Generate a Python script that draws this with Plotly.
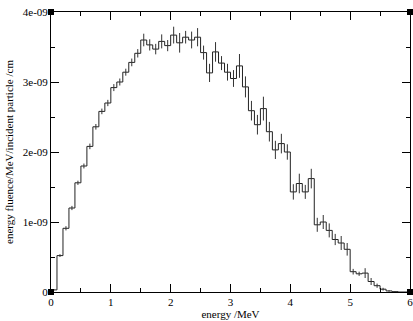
import plotly.graph_objects as go

# bin lower edges (MeV), bin width 0.1 MeV
bin_lo = [0.0, 0.1, 0.2, 0.3, 0.4, 0.5, 0.6, 0.7, 0.8, 0.9,
          1.0, 1.1, 1.2, 1.3, 1.4, 1.5, 1.6, 1.7, 1.8, 1.9,
          2.0, 2.1, 2.2, 2.3, 2.4, 2.5, 2.6, 2.7, 2.8, 2.9,
          3.0, 3.1, 3.2, 3.3, 3.4, 3.5, 3.6, 3.7, 3.8, 3.9,
          4.0, 4.1, 4.2, 4.3, 4.4, 4.5, 4.6, 4.7, 4.8, 4.9,
          5.0, 5.1, 5.2, 5.3, 5.4, 5.5, 5.6, 5.7, 5.8, 5.9]
bin_width = 0.1

# energy fluence (units of 1e-9 /MeV/incident particle/cm)
fluence = [0.03, 0.52, 0.91, 1.20, 1.56, 1.80, 2.08, 2.36, 2.58, 2.70,
           2.92, 3.00, 3.14, 3.28, 3.41, 3.60, 3.53, 3.47, 3.58, 3.52,
           3.67, 3.56, 3.64, 3.60, 3.64, 3.42, 3.13, 3.43, 3.27, 3.14,
           3.05, 3.23, 2.93, 2.59, 2.39, 2.62, 2.29, 2.03, 2.12, 2.00,
           1.43, 1.55, 1.43, 1.62, 0.96, 1.00, 0.88, 0.75, 0.70, 0.61,
           0.29, 0.26, 0.27, 0.15, 0.09, 0.04, 0.015, 0.005, 0.0, 0.0]

# statistical uncertainty (same units)
errors = [0.005, 0.02, 0.03, 0.03, 0.03, 0.035, 0.04, 0.04, 0.04, 0.045,
          0.05, 0.05, 0.05, 0.055, 0.06, 0.09, 0.08, 0.075, 0.10, 0.08,
          0.12, 0.14, 0.09, 0.12, 0.13, 0.10, 0.13, 0.14, 0.10, 0.12,
          0.12, 0.17, 0.15, 0.14, 0.14, 0.17, 0.14, 0.13, 0.14, 0.11,
          0.11, 0.14, 0.10, 0.14, 0.10, 0.10, 0.10, 0.08, 0.10, 0.09,
          0.04, 0.03, 0.07, 0.05, 0.03, 0.02, 0.01, 0.005, 0.0, 0.0]

scale = 1e-9
x_range = [0, 6]
y_range = [0, 4e-9]
x_ticks = [0, 1, 2, 3, 4, 5, 6]
y_tickvals = [0, 1e-9, 2e-9, 3e-9, 4e-9]
y_ticktext = ["0", "1e-09", "2e-09", "3e-09", "4e-09"]

y_vals = [v * scale for v in fluence]
y_errs = [e * scale for e in errors]
step_x = bin_lo + [bin_lo[-1] + bin_width]
step_y = y_vals + [y_vals[-1]]
centers = [b + bin_width / 2 for b in bin_lo]

font = "Liberation Serif"

fig = go.Figure()
fig.add_trace(go.Scatter(
    x=step_x, y=step_y, mode="lines", line_shape="hv",
    line=dict(color="#222222", width=1), showlegend=False, hoverinfo="skip"))
fig.add_trace(go.Scatter(
    x=centers, y=y_vals, mode="markers", marker=dict(size=0, opacity=0),
    error_y=dict(type="data", array=y_errs, visible=True, width=0,
                 thickness=1, color="#333333"),
    showlegend=False))
# corner square markers (world corners)
fig.add_trace(go.Scatter(
    x=[x_range[0], x_range[0], x_range[1], x_range[1]],
    y=[y_range[0], y_range[1], y_range[1], y_range[0]],
    mode="markers", marker=dict(symbol="square", size=6, color="black"),
    cliponaxis=False, showlegend=False))

axis_common = dict(
    showgrid=False, zeroline=False, showline=True, linecolor="black",
    linewidth=1, mirror="allticks", ticks="inside", ticklen=8,
    tickcolor="black", tickwidth=1, automargin=False,
    ticklabeloverflow="allow",
    tickfont=dict(family=font, size=11, color="black"),
)

fig.update_xaxes(
    range=x_range, tickvals=x_ticks,
    minor=dict(ticks="inside", ticklen=4, dtick=0.5, tickcolor="black", showgrid=False),
    title=dict(text="energy /MeV", font=dict(family=font, size=11, color="black"),
               standoff=2),
    **axis_common)
fig.update_yaxes(
    range=y_range, tickvals=y_tickvals, ticktext=y_ticktext,
    minor=dict(ticks="inside", ticklen=4, dtick=0.5e-9, tickcolor="black", showgrid=False),
    title=dict(text="energy fluence/MeV/incident particle /cm",
               font=dict(family=font, size=11, color="black"), standoff=6),
    **axis_common)

fig.update_layout(
    width=413, height=321,
    margin=dict(l=51, r=3, t=12, b=29, autoexpand=False),
    paper_bgcolor="white", plot_bgcolor="white",
    font=dict(family=font, size=11, color="black"),
)

fig.write_html("out.html", config={"displayModeBar": False},
               post_script="document.body.style.margin='0';document.body.style.overflow='hidden';")
